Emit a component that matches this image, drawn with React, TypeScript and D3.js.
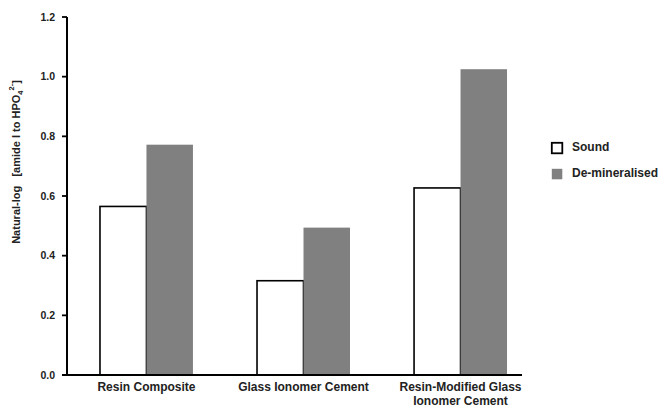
import React from "react";
import * as d3 from "d3";

const categories = ["Resin Composite", "Glass Ionomer Cement", "Resin-Modified Glass Ionomer Cement"];
const categoryLines = [["Resin Composite"], ["Glass Ionomer Cement"], ["Resin-Modified Glass", "Ionomer Cement"]];
const seriesNames = ["Sound", "De-mineralised"];
const soundValues = [0.565, 0.316, 0.627];
const deminValues = [0.772, 0.494, 1.025];
const yTicks = [0, 0.2, 0.4, 0.6, 0.8, 1.0, 1.2];

export default function App() {
  const W = 658, H = 407;
  const x0 = 67, x1 = 522, yTop = 17, yBot = 375;
  const y = d3.scaleLinear().domain([0, 1.2]).range([yBot, yTop]);
  const xBand = d3.scaleBand().domain(categories).range([x0, 540]).paddingInner(0.408).paddingOuter(0.21);
  const inner = d3.scaleBand().domain(seriesNames).range([0, xBand.bandwidth()]);
  const fills = ["#ffffff", "#808080"];
  const strokes = ["#000000", "none"];
  const series = [soundValues, deminValues];
  const font = "'Liberation Sans', Arial, sans-serif";
  return (
    <svg width={W} height={H} style={{ position: "absolute", left: 0, top: 0 }} fontFamily={font}>
      <rect width={W} height={H} fill="#fff" />
      {categories.map((c, ci) =>
        series.map((vals, si) => {
          const bx = (xBand(c) as number) + (inner(seriesNames[si]) as number);
          const bw = inner.bandwidth();
          return (
            <rect key={c + si} x={bx} y={y(vals[ci])} width={bw} height={yBot - y(vals[ci])}
              fill={fills[si]} stroke={strokes[si]} strokeWidth={1.6} />
          );
        })
      )}
      <line x1={x0} x2={x0} y1={yTop} y2={yBot} stroke="#000" strokeWidth={2} />
      <line x1={x0 - 5} x2={x1} y1={yBot} y2={yBot} stroke="#000" strokeWidth={2} />
      {yTicks.map(t => (
        <g key={t}>
          <line x1={x0 - 5} x2={x0} y1={y(t)} y2={y(t)} stroke="#000" strokeWidth={1.8} />
          <text x={x0 - 12} y={y(t)} dy="0.35em" textAnchor="end" fontSize={10.5} fontWeight="bold" fill="#222">
            {t.toFixed(1)}
          </text>
        </g>
      ))}
      {categories.map((c, ci) => (
        <text key={c} x={(xBand(c) as number) + xBand.bandwidth() / 2} y={391} textAnchor="middle"
          fontSize={12} fontWeight="bold" fill="#222">
          {categoryLines[ci].map((l, li) => (
            <tspan key={li} x={(xBand(c) as number) + xBand.bandwidth() / 2} dy={li === 0 ? 0 : 14}>{l}</tspan>
          ))}
        </text>
      ))}
      <text transform="translate(20,162) rotate(-90)" textAnchor="middle" fontSize={11} fontWeight="bold" fill="#222">
        Natural-log{"\u00a0\u00a0\u00a0"}[amide I to HPO
        <tspan fontSize={7.5} dy={3}>4</tspan>
        <tspan fontSize={7.5} dy={-9}>2-</tspan>
        <tspan dy={6}>]</tspan>
      </text>
      {seriesNames.map((s, si) => (
        <g key={s} transform={`translate(551,${142 + si * 26})`}>
          <rect x={0.8} y={0.8} width={10.5} height={10.5} fill={fills[si]} stroke={strokes[si]} strokeWidth={1.8} />
          <text x={21} y={8.5} fontSize={12} fontWeight="bold" fill="#222">{s}</text>
        </g>
      ))}
    </svg>
  );
}
